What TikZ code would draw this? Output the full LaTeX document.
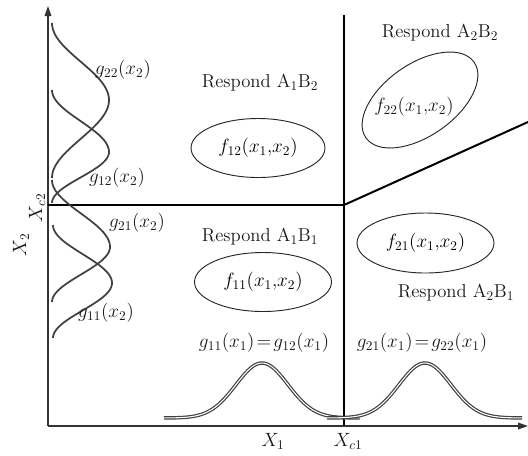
\documentclass[tikz,border=0pt]{standalone}
\usetikzlibrary{shapes.geometric,arrows.meta}
\begin{document}
\begin{tikzpicture}[x=0.75pt,y=-0.75pt,
  font=\fontsize{14}{16}\selectfont,
  axis/.style={draw=black!80, line width=0.9pt},
  bound/.style={draw=black, line width=1.5pt},
  curv/.style={draw=black!75, line width=1.3pt},
  bell/.style={draw=black!75, line width=0.9pt, double=white, double distance=0.8pt},
  region/.style={ellipse, draw=black!85, line width=0.7pt, inner sep=0pt,
    minimum width=102.75pt, minimum height=44.25pt},
  lbl/.style={inner sep=0pt, text=black!90}]

\useasboundingbox (0,0) rectangle (528,455);

% axes
\coordinate (O) at (48,426);
\coordinate (ytop) at (48,6);
\coordinate (xend) at (528,426);
\draw[axis,-{Triangle[length=7.5pt,width=5pt]}] (O) -- (ytop);
\draw[axis,-{Triangle[length=7.5pt,width=5pt]}] (O) -- (xend);

% decision boundaries
\coordinate (c) at (344,205);
\coordinate (hl) at (48,205);
\coordinate (vt) at (344,15);
\coordinate (vb) at (344,426);
\coordinate (sl) at (528,122);
\draw[bound] (hl) -- (c);
\draw[bound] (vt) -- (vb);
\draw[bound] (c) -- (sl);

% marginal densities along X2 (raised-cosine bells)
% g22: centre 100
\draw[curv] plot[domain=-1:0,samples=40] ({52+57*(1+cos(180*\x))/2},{100+77*\x})
  -- plot[domain=0:1,samples=40] ({52+57*(1+cos(180*\x))/2},{100+78*\x});
% g12: centre 152
\draw[curv] plot[domain=-1:0,samples=40] ({52+57*(1+cos(180*\x))/2},{152+62*\x})
  -- plot[domain=0:1,samples=40] ({52+57*(1+cos(180*\x))/2},{152+51*\x});
% g21: centre 247
\draw[curv] plot[domain=-1:0,samples=40] ({52+58*(1+cos(180*\x))/2},{247+67*\x})
  -- plot[domain=0:1,samples=40] ({52+58*(1+cos(180*\x))/2},{247+55*\x});
% g11: centre 283
\draw[curv] plot[domain=-1:0,samples=40] ({53+59*(1+cos(180*\x))/2},{283+58*\x})
  -- plot[domain=0:1,samples=40] ({53+59*(1+cos(180*\x))/2},{283+55*\x});

% marginal densities along X1 (double lines)
\draw[bell] plot[domain=164:360,samples=90] (\x,{418-55*exp(-((\x-262)/26)^2/2)});
\draw[bell] plot[domain=327:522,samples=90] (\x,{418-55*exp(-((\x-425)/26)^2/2)});

% region labels
\node[lbl] (r12) at (260,83) {Respond A$_1$B$_2$};
\node[lbl] (r11) at (260,237) {Respond A$_1$B$_1$};
\node[lbl] (r22) at (440,33) {Respond A$_2$B$_2$};
\node[lbl] (r21) at (456,293) {Respond A$_2$B$_1$};

% class-conditional densities
\node[region, minimum width=100.5pt] (f12) at (258,148) {$f_{12}(x_1{,}x_2)$};
\node[region] (f11) at (263,282) {$f_{11}(x_1{,}x_2)$};
\node[region, minimum height=45pt] (f21) at (425.5,243) {$f_{21}(x_1{,}x_2)$};
\node[region, rotate=35, minimum width=99pt, minimum height=54pt] (f22) at (420,100) {};
\node[lbl] (f22t) at (414,107) {$f_{22}(x_1{,}x_2)$};

% marginal labels
\node[lbl] (g22) at (123,70) {$g_{22}(x_2)$};
\node[lbl] (g12) at (117,178) {$g_{12}(x_2)$};
\node[lbl] (g21) at (137,223) {$g_{21}(x_2)$};
\node[lbl] (g11) at (106,313) {$g_{11}(x_2)$};
\node[lbl] (gl) at (264,343) {$g_{11}(x_1)\!=\!g_{12}(x_1)$};
\node[lbl] (gr) at (422,343) {$g_{21}(x_1)\!=\!g_{22}(x_1)$};

% axis labels
\node[lbl] (X1) at (273,441) {$X_1$};
\node[lbl] (Xc1) at (348,441) {$X_{c1}$};
\node[lbl, rotate=90] (X2) at (21,245) {$X_2$};
\node[lbl, rotate=90] (Xc2) at (37,208) {$X_{c2}$};
\end{tikzpicture}
\end{document}
